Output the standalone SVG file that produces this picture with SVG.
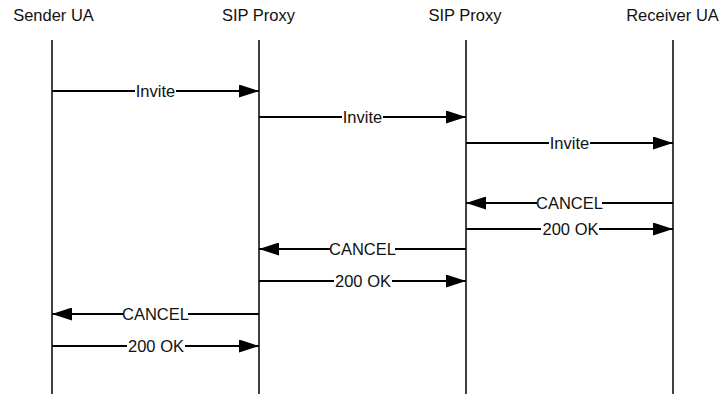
<svg xmlns="http://www.w3.org/2000/svg" width="721" height="394" viewBox="0 0 721 394">
<style>
.t{font-family:"Liberation Sans",Arial,sans-serif;font-size:16.5px;fill:#111;text-anchor:middle}
.l{font-family:"Liberation Sans",Arial,sans-serif;font-size:16.5px;fill:#111;text-anchor:middle}
.life{stroke:#000;stroke-width:1.5;fill:none}
.msg{stroke:#000;stroke-width:1.8;fill:none;marker-end:url(#ah)}
.bg{fill:#fff}
</style>
<defs>
<marker id="ah" markerUnits="userSpaceOnUse" markerWidth="20" markerHeight="13" refX="20" refY="6.5" orient="auto">
<path d="M0,0 L20,6.5 L0,13 Z" fill="#000"/>
</marker>
</defs>
<g id="sender"><text class="t" x="53.5" y="21">Sender UA</text><line class="life" x1="52" y1="40" x2="52" y2="394"/></g>
<g id="proxy1"><text class="t" x="258.5" y="21">SIP Proxy</text><line class="life" x1="259" y1="40" x2="259" y2="394"/></g>
<g id="proxy2"><text class="t" x="465" y="21">SIP Proxy</text><line class="life" x1="466" y1="40" x2="466" y2="394"/></g>
<g id="receiver"><text class="t" x="672.5" y="21">Receiver UA</text><line class="life" x1="673" y1="40" x2="673" y2="394"/></g>
<g id="connectors">
<line class="msg" x1="52" y1="91" x2="259" y2="91"/><rect class="bg" x="135" y="83" width="41" height="16"/><text class="l" x="155.5" y="97">Invite</text>
<line class="msg" x1="259" y1="117" x2="466" y2="117"/><rect class="bg" x="342" y="109" width="41" height="16"/><text class="l" x="362.5" y="123">Invite</text>
<line class="msg" x1="466" y1="143" x2="673" y2="143"/><rect class="bg" x="549" y="135" width="41" height="16"/><text class="l" x="569.5" y="149">Invite</text>
<line class="msg" x1="673" y1="203" x2="466" y2="203"/><rect class="bg" x="537" y="195" width="65" height="16"/><text class="l" x="569.5" y="209">CANCEL</text>
<line class="msg" x1="466" y1="229" x2="673" y2="229"/><rect class="bg" x="541" y="221" width="58" height="16"/><text class="l" x="570.5" y="235">200 OK</text>
<line class="msg" x1="466" y1="249" x2="259" y2="249"/><rect class="bg" x="330" y="241" width="65" height="16"/><text class="l" x="362.5" y="255">CANCEL</text>
<line class="msg" x1="259" y1="281" x2="466" y2="281"/><rect class="bg" x="334" y="273" width="58" height="16"/><text class="l" x="363" y="287">200 OK</text>
<line class="msg" x1="259" y1="314" x2="52" y2="314"/><rect class="bg" x="123" y="306" width="65" height="16"/><text class="l" x="155.5" y="320">CANCEL</text>
<line class="msg" x1="52" y1="346" x2="259" y2="346"/><rect class="bg" x="127" y="338" width="58" height="16"/><text class="l" x="156" y="352">200 OK</text>
</g>
</svg>
